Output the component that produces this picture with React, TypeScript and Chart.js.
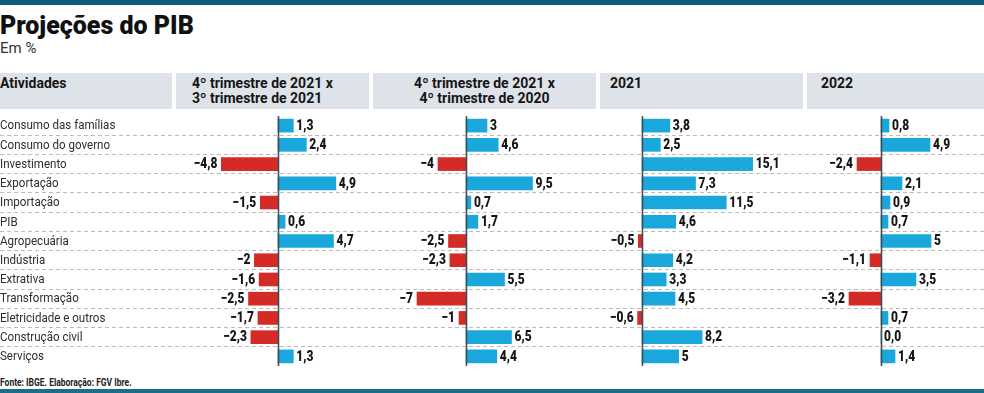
import React, { useEffect, useRef } from "react";
import { Chart, registerables } from "chart.js";

Chart.register(...registerables);

const categories = [
  "Consumo das famílias",
  "Consumo do governo",
  "Investimento",
  "Exportação",
  "Importação",
  "PIB",
  "Agropecuária",
  "Indústria",
  "Extrativa",
  "Transformação",
  "Eletricidade e outros",
  "Construção civil",
  "Serviços",
];

const q4VsQ3 = [1.3, 2.4, -4.8, 4.9, -1.5, 0.6, 4.7, -2, -1.6, -2.5, -1.7, -2.3, 1.3];
const q4VsQ4 = [3, 4.6, -4, 9.5, 0.7, 1.7, -2.5, -2.3, 5.5, -7, -1, 6.5, 4.4];
const year2021 = [3.8, 2.5, 15.1, 7.3, 11.5, 4.6, -0.5, 4.2, 3.3, 4.5, -0.6, 8.2, 5];
const year2022 = [0.8, 4.9, -2.4, 2.1, 0.9, 0.7, 5, -1.1, 3.5, -3.2, 0.7, 0.0, 1.4];

const headers = [
  "4º trimestre de 2021 x\n3º trimestre de 2021",
  "4º trimestre de 2021 x\n4º trimestre de 2020",
  "2021",
  "2022",
];

const W = 984;
const BLUE = "#19a7dc";
const RED = "#d52b27";
const FONT = '"Roboto", "Liberation Sans", sans-serif';

// panel layout: zero-line pixel and pixels per unit
const panels = [
  { zero: 278, ppu: 11.8 },
  { zero: 466, ppu: 7.0 },
  { zero: 642, ppu: 7.33 },
  { zero: 881, ppu: 10.0 },
];

const fmt = (v: number) => {
  if (v === 0) return "0,0";
  const s = String(Math.abs(v)).replace(".", ",");
  return v < 0 ? "\u2212" + s : s;
};

const drawNarrow = (ctx: any, text: string, x: number, y: number, sx: number) => {
  ctx.save();
  ctx.translate(x, y);
  ctx.scale(sx, 1);
  ctx.fillText(text, 0, 0);
  ctx.restore();
};

const labelPlugin = {
  id: "valueLabels",
  afterDatasetsDraw(chart: any) {
    const ctx = chart.ctx;
    const area = chart.chartArea;
    ctx.save();
    // zero lines
    panels.forEach((_, i) => {
      const sc = chart.scales["x" + i];
      const px = Math.round(sc.getPixelForValue(0)) + 0.5;
      ctx.strokeStyle = "#3e4d56";
      ctx.lineWidth = 1.6;
      ctx.beginPath();
      ctx.moveTo(px, area.top - 1);
      ctx.lineTo(px, area.bottom);
      ctx.stroke();
    });
    // category labels
    const ys = chart.scales.y;
    ctx.font = "13px " + FONT;
    ctx.fillStyle = "#2e2e2e";
    ctx.textBaseline = "middle";
    ctx.textAlign = "left";
    categories.forEach((c, j) => {
      drawNarrow(ctx, c, 0, ys.getPixelForValue(j) + 0.5, 0.89);
    });
    // value labels
    ctx.font = "900 15px " + FONT;
    ctx.fillStyle = "#161616";
    chart.data.datasets.forEach((ds: any, i: number) => {
      const meta = chart.getDatasetMeta(i);
      meta.data.forEach((bar: any, j: number) => {
        const v = ds.data[j];
        const { x, y } = bar.getProps(["x", "y"], true);
        if (v < 0) {
          ctx.textAlign = "right";
          drawNarrow(ctx, fmt(v), x - 4, y + 0.5, 0.8);
        } else {
          ctx.textAlign = "left";
          drawNarrow(ctx, fmt(v), x + 3, y + 0.5, 0.8);
        }
      });
    });
    ctx.restore();
  },
};

const Narrow = ({ s, origin, children }: any) => (
  <span
    style={{
      display: "inline-block",
      transform: `scaleX(${s})`,
      transformOrigin: origin || "left",
      whiteSpace: "pre",
    }}
  >
    {children}
  </span>
);

export default function App() {
  const ref = useRef<HTMLCanvasElement | null>(null);

  useEffect(() => {
    if (!ref.current) return;
    const series = [q4VsQ3, q4VsQ4, year2021, year2022];
    const scales: any = {
      y: {
        type: "category",
        offset: true,
        position: "left",
        grid: {
          offset: true,
          drawTicks: false,
          lineWidth: 1,
          color: (c: any) =>
            c.index === undefined || c.index === 0 ? "rgba(0,0,0,0)" : "#bcbcbc",
        },
        border: { display: false, dash: [4, 3] },
        ticks: { display: false },
      },
    };
    panels.forEach((p, i) => {
      scales["x" + i] = {
        type: "linear",
        display: false,
        min: -p.zero / p.ppu,
        max: (W - p.zero) / p.ppu,
      };
    });
    const chart = new Chart(ref.current, {
      type: "bar",
      data: {
        labels: categories,
        datasets: series.map((d, i) => ({
          label: headers[i],
          data: d,
          xAxisID: "x" + i,
          grouped: false,
          barThickness: 13,
          backgroundColor: (c: any) => (c.raw < 0 ? RED : BLUE),
          borderWidth: 0,
        })),
      },
      options: {
        indexAxis: "y",
        animation: false,
        responsive: false,
        maintainAspectRatio: false,
        layout: { padding: 0 },
        plugins: { legend: { display: false }, tooltip: { enabled: false } },
        scales,
      },
      plugins: [labelPlugin],
    });
    return () => chart.destroy();
  }, []);

  const headCell = (left: number, width: number, text: string, align: "left" | "center", padLeft: number) => (
    <div
      key={left}
      style={{
        position: "absolute",
        left,
        top: 73,
        width,
        height: 36,
        background: "#dde3e9",
        boxSizing: "border-box",
        paddingLeft: align === "left" ? padLeft : 0,
        paddingTop: 3,
        textAlign: align,
        font: "bold 14px/15px " + FONT,
        color: "#161616",
        whiteSpace: "pre",
      }}
    >
      {text}
    </div>
  );

  return (
    <div
      style={{
        position: "absolute",
        left: 0,
        top: 0,
        width: W,
        height: 393,
        background: "#fff",
        overflow: "hidden",
      }}
    >
      <div style={{ position: "absolute", left: 0, top: 0, width: W, height: 5, background: "#0f5b7c" }} />
      <div
        style={{
          position: "absolute",
          left: 0,
          top: 13,
          font: "900 25px/26px " + FONT,
          color: "#111",
          whiteSpace: "nowrap",
        }}
      >
        Projeções do PIB
      </div>
      <div
        style={{
          position: "absolute",
          left: 0,
          top: 40,
          font: "15px/17px " + FONT,
          color: "#333",
        }}
      >
        Em %
      </div>
      {headCell(0, 172, "Atividades", "left", 0)}
      {headCell(176, 193, headers[0], "left", 16)}
      {headCell(373, 223, headers[1], "center", 0)}
      {headCell(600, 203, headers[2], "left", 10)}
      {headCell(807, 177, headers[3], "left", 14)}
      <canvas
        ref={ref}
        width={W}
        height={250}
        style={{ position: "absolute", left: 0, top: 116, width: W, height: 250 }}
      />
      <div
        style={{
          position: "absolute",
          left: 0,
          top: 377,
          font: "bold 10px/12px " + FONT,
          color: "#222",
          whiteSpace: "nowrap",
        }}
      >
        <Narrow s={0.85}>Fonte: IBGE. Elaboração: FGV Ibre.</Narrow>
      </div>
      <div style={{ position: "absolute", left: 0, top: 389, width: W, height: 4, background: "#17708a" }} />
    </div>
  );
}
